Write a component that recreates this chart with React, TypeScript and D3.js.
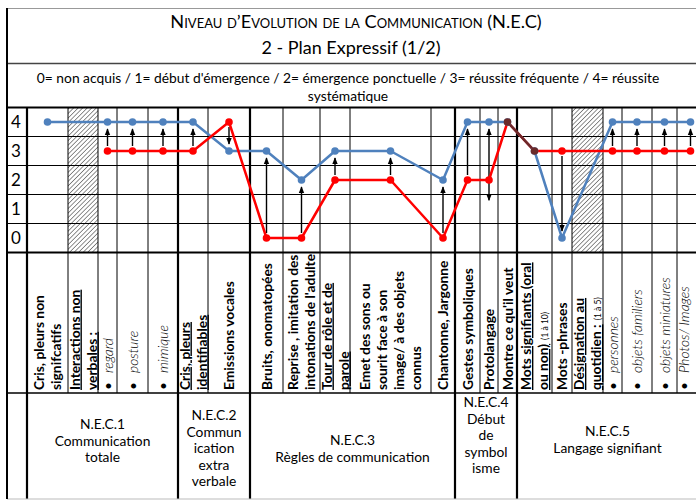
import React, { useRef, useEffect } from 'react';
import * as d3 from 'd3';

// one entry per column of the grid
const categories = [
  'Cris, pleurs non significatifs', 'Interactions non verbales :', 'regard', 'posture', 'mimique',
  'Cris, pleurs identifiables', 'Emissions vocales', 'Bruits, onomatopées',
  "Reprise , imitation des intonations de l'adulte", 'Tour de rôle et de parole',
  'Emet des sons ou sourit face à son image/ à des objets connus', 'Chantonne, Jargonne',
  'Gestes symboliques', 'Protolangage', "Montre ce qu'il veut", 'Mots signifiants (oral ou non)',
  'Mots -phrases', 'Désignation au quotidien :', 'personnes', 'objets familiers',
  'objets miniatures', 'Photos/ Images'
];

// rotated labels, split as in the sheet ("|" = small note after the text)
const labelLines = [
  ['Cris, pleurs non', 'signifcatifs'],
  ['Interactions non', 'verbales :'],
  ['regard'], ['posture'], ['mimique'],
  ['Cris, pleurs', 'identifiables'],
  ['Emissions vocales'],
  ['Bruits, onomatopées'],
  ['Reprise , imitation des', "intonations de l'adulte"],
  ['Tour de rôle et de', 'parole'],
  ['Emet des sons ou', 'sourit face à son', 'image/ à des objets', 'connus'],
  ['Chantonne, Jargonne'],
  ['Gestes symboliques'],
  ['Protolangage'],
  ["Montre ce qu'il veut"],
  ['Mots signifiants (oral', 'ou non)|(1 à 10)'],
  ['Mots -phrases'],
  ['Désignation au', 'quotidien :|(1 à 5)'],
  ['personnes'], ['objets familiers'], ['objets miniatures'], ['Photos/ Images']
];
// b = bold, u = bold underlined, i = bullet + italic
const labelKinds = ['b', 'u', 'i', 'i', 'i', 'u', 'b', 'b', 'b', 'u', 'b', 'b', 'b', 'b', 'b', 'u', 'b', 'u', 'i', 'i', 'i', 'i'];

const blueValues = [4, null, 4, 4, 4, 4, 3, 3, 2, 3, 3, 2, 4, 4, 4, 3, 0, null, 4, 4, 4, 4];
const redValues = [null, null, 3, 3, 3, 3, 4, 0, 0, 2, 2, 0, 2, 2, 4, 3, 3, null, 3, 3, 3, 3];

// arrows drawn with a head at both ends, and the low end of them
const twoWayArrows = ['Protolangage'];
const twoWayLow = 1.3;

const scoreTicks = [4, 3, 2, 1, 0];

const groupSizes = [5, 2, 5, 3, 7];
const groupLines = [
  ['N.E.C.1', 'Communication', 'totale'],
  ['N.E.C.2', 'Commun', 'ication', 'extra', 'verbale'],
  ['N.E.C.3', 'Règles de communication'],
  ['N.E.C.4', 'Début', 'de', 'symbol', 'isme'],
  ['N.E.C.5', 'Langage signifiant']
];
const groupTextTop = [424, 415, 440, 402, 431];

const title = 'Niveau d\u2019Evolution de la Communication (N.E.C)';
const subtitle = '2 - Plan Expressif (1/2)';
const scaleNote = ["0= non acquis / 1= début d'émergence / 2= émergence ponctuelle / 3= réussite fréquente / 4= réussite", 'systématique'];

const BLUE = '#4f81bd';
const RED = '#ff0000';
const BROWN = '#6a2a2a';
const FONT = 'Lato, "Open Sans", sans-serif';

const App = () => {
  const svgRef = useRef<SVGSVGElement>(null);

  useEffect(() => {
    const svg = d3.select(svgRef.current);
    svg.selectAll('*').remove();

    // layout of the table
    const colEdges = [27, 68, 98, 117, 148, 178, 208, 250, 283, 320, 350, 431, 455, 480, 498, 517, 552, 572, 603, 622, 652, 677, 704];
    const left = 7, right = 704;
    const gridTop = 107.5, gridBottom = 252.5, labelBottom = 393, tableBottom = 499;

    const centers = categories.map((_, i) => (colEdges[i] + colEdges[i + 1]) / 2);
    const x = d3.scaleOrdinal<string, number>().domain(categories).range(centers);
    const y = d3.scaleLinear().domain([0, 4]).range([238, 122]);

    const defs = svg.append('defs');
    const pat = defs.append('pattern')
      .attr('id', 'hatch').attr('patternUnits', 'userSpaceOnUse')
      .attr('width', 3.2).attr('height', 3.2)
      .attr('patternTransform', 'rotate(45)');
    pat.append('rect').attr('width', 3.2).attr('height', 3.2).attr('fill', '#fff');
    pat.append('line').attr('x1', 0).attr('y1', 0).attr('x2', 0).attr('y2', 3.2)
      .attr('stroke', '#555').attr('stroke-width', 1.3);
    defs.append('marker')
      .attr('id', 'head').attr('viewBox', '0 0 10 10')
      .attr('refX', 9).attr('refY', 5)
      .attr('markerUnits', 'userSpaceOnUse')
      .attr('markerWidth', 7).attr('markerHeight', 7)
      .attr('orient', 'auto-start-reverse')
      .append('path').attr('d', 'M0,1L10,5L0,9z').attr('fill', '#000');

    svg.append('rect').attr('width', 696).attr('height', 501).attr('fill', '#fff');

    // header texts
    svg.append('text')
      .attr('x', 356).attr('y', 28)
      .attr('text-anchor', 'middle')
      .style('font-variant', 'small-caps')
      .attr('font-family', FONT).attr('font-size', 18.2)
      .text(title);
    svg.append('text')
      .attr('x', 351).attr('y', 54)
      .attr('text-anchor', 'middle')
      .attr('font-family', FONT).attr('font-size', 18)
      .text(subtitle);
    scaleNote.forEach((t, i) => {
      svg.append('text')
        .attr('x', 348).attr('y', 83 + i * 18)
        .attr('text-anchor', 'middle')
        .attr('font-family', FONT).attr('font-size', 13.8)
        .text(t);
    });

    // hatched columns (no score at all)
    categories.forEach((c, i) => {
      if (blueValues[i] == null && redValues[i] == null) {
        svg.append('rect')
          .attr('x', colEdges[i]).attr('y', gridTop)
          .attr('width', colEdges[i + 1] - colEdges[i])
          .attr('height', gridBottom - gridTop)
          .attr('fill', 'url(#hatch)');
      }
    });

    // horizontal rules of the score rows
    scoreTicks.slice(0, -1).forEach(v => {
      svg.append('line')
        .attr('x1', left).attr('x2', right)
        .attr('y1', y(v) + 14.5).attr('y2', y(v) + 14.5)
        .attr('stroke', '#000').attr('stroke-width', 1);
    });

    // score labels
    scoreTicks.forEach(v => {
      svg.append('text')
        .attr('x', 16).attr('y', y(v) + 6)
        .attr('text-anchor', 'middle')
        .attr('font-family', FONT).attr('font-size', 17)
        .text(v);
    });

    // vertical rules
    const groupEdges = [0, ...d3.cumsum(groupSizes)].map(k => colEdges[k]);
    colEdges.forEach(e => {
      const thick = groupEdges.includes(e);
      svg.append('line')
        .attr('x1', e).attr('x2', e)
        .attr('y1', gridTop).attr('y2', thick ? tableBottom : labelBottom)
        .attr('stroke', '#000').attr('stroke-width', thick ? 2.2 : 1);
    });

    // frame
    svg.append('line').attr('x1', left).attr('x2', right).attr('y1', 8.5).attr('y2', 8.5)
      .attr('stroke', '#999').attr('stroke-width', 1);
    svg.append('line').attr('x1', left).attr('x2', right).attr('y1', 63.5).attr('y2', 63.5)
      .attr('stroke', '#444').attr('stroke-width', 1.3);
    [gridTop, gridBottom].forEach(yy => {
      svg.append('line').attr('x1', left).attr('x2', right).attr('y1', yy).attr('y2', yy)
        .attr('stroke', '#000').attr('stroke-width', 2.2);
    });
    svg.append('line').attr('x1', left).attr('x2', right).attr('y1', labelBottom).attr('y2', labelBottom)
      .attr('stroke', '#000').attr('stroke-width', 1.6);
    svg.append('line').attr('x1', left).attr('x2', right).attr('y1', tableBottom).attr('y2', tableBottom)
      .attr('stroke', '#bbb').attr('stroke-width', 1);
    svg.append('line').attr('x1', left).attr('x2', left).attr('y1', 8).attr('y2', tableBottom)
      .attr('stroke', '#000').attr('stroke-width', 2);

    // rotated column labels
    categories.forEach((c, i) => {
      const lines = labelLines[i];
      const kind = labelKinds[i];
      lines.forEach((ln, j) => {
        const cx = Math.min(x(c), 684) + (j - (lines.length - 1) / 2) * 17;
        const t = svg.append('text')
          .attr('transform', `translate(${cx + 5},390) rotate(-90)`)
          .attr('font-family', FONT).attr('font-size', 13.8);
        if (kind === 'i') {
          t.append('tspan').text('•');
          t.append('tspan').attr('dx', 9).attr('font-style', 'italic').attr('font-weight', 300).text(ln);
          return;
        }
        const [main, note] = ln.split('|');
        t.append('tspan')
          .attr('font-weight', 'bold')
          .attr('text-decoration', kind === 'u' ? 'underline' : null)
          .text(main);
        if (note) {
          t.append('tspan').attr('dx', 4).attr('font-size', 8.5).text(note);
        }
      });
    });

    // group cells at the bottom
    groupLines.forEach((lines, g) => {
      const cx = (groupEdges[g] + Math.min(groupEdges[g + 1], 704)) / 2 - (g === 4 ? 3 : 0);
      lines.forEach((ln, j) => {
        svg.append('text')
          .attr('x', cx).attr('y', groupTextTop[g] + 5 + j * 16.5)
          .attr('text-anchor', 'middle')
          .attr('font-family', FONT).attr('font-size', 13.8)
          .text(ln);
      });
    });

    // series
    const line = d3.line<[number, number]>()
      .x(d => x(categories[d[0]]))
      .y(d => y(d[1]));
    const bluePts = blueValues.map((v, i) => [i, v] as [number, number | null])
      .filter(d => d[1] != null) as [number, number][];
    const redPts = redValues.map((v, i) => [i, v] as [number, number | null])
      .filter(d => d[1] != null) as [number, number][];

    // arrows from the red score to the blue score
    categories.forEach((c, i) => {
      const b = blueValues[i], r = redValues[i];
      if (b == null || r == null || b === r) return;
      const dir = b > r ? -1 : 1;
      const twoWay = twoWayArrows.includes(c);
      const y1 = twoWay ? y(twoWayLow) : y(r) + dir * 5;
      const y2 = y(b) - dir * 7;
      svg.append('line')
        .attr('x1', x(c)).attr('x2', x(c))
        .attr('y1', y1).attr('y2', y2)
        .attr('stroke', '#000').attr('stroke-width', 1.4)
        .attr('marker-end', 'url(#head)')
        .attr('marker-start', twoWay ? 'url(#head)' : null);
    });

    svg.append('path').datum(bluePts)
      .attr('fill', 'none').attr('stroke', BLUE).attr('stroke-width', 2.5)
      .attr('stroke-linejoin', 'round').attr('d', line);
    svg.append('path').datum(redPts)
      .attr('fill', 'none').attr('stroke', RED).attr('stroke-width', 2.5)
      .attr('stroke-linejoin', 'round').attr('d', line);

    // where both scores coincide the two lines show as brown
    const same = (i: number) => blueValues[i] != null && blueValues[i] === redValues[i];
    for (let k = 0; k < redPts.length - 1; k++) {
      const i = redPts[k][0], j = redPts[k + 1][0];
      if (same(i) && same(j)) {
        svg.append('path').datum([redPts[k], redPts[k + 1]])
          .attr('fill', 'none').attr('stroke', BROWN).attr('stroke-width', 2.5)
          .attr('d', line);
      }
    }

    svg.selectAll('.bdot').data(bluePts).join('circle')
      .attr('class', 'bdot')
      .attr('cx', d => x(categories[d[0]])).attr('cy', d => y(d[1]))
      .attr('r', 3.8).attr('fill', BLUE);
    svg.selectAll('.rdot').data(redPts).join('circle')
      .attr('class', 'rdot')
      .attr('cx', d => x(categories[d[0]])).attr('cy', d => y(d[1]))
      .attr('r', 3.8).attr('fill', d => same(d[0]) ? BROWN : RED);
  }, []);

  return (
    <svg ref={svgRef} width="696" height="501" style={{ position: 'absolute', left: 0, top: 0 }}></svg>
  );
};

export default App;
